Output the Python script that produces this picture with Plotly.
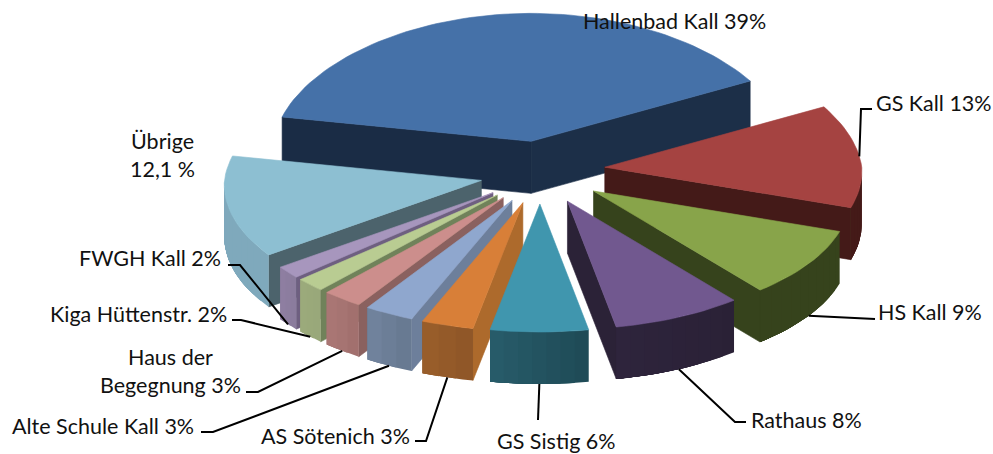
import math
import plotly.graph_objects as go

# ---- data (slice sizes as drawn; the printed labels are rounded)
categories = ["Hallenbad Kall", "GS Kall", "HS Kall", "Rathaus", "GS Sistig", "AS Sötenich",
              "Alte Schule Kall", "Haus der Begegnung", "Kiga Hüttenstr.", "FWGH Kall", "Übrige"]
values = [39.3, 13, 9, 8, 6, 3.2, 3.05, 2.5, 1.8, 1.6, 13.0]
label_texts = ["Hallenbad Kall 39%", "GS Kall 13%", "HS Kall 9%", "Rathaus 8%", "GS Sistig 6%",
               "AS Sötenich 3%", "Alte Schule Kall 3%", "Haus der<br>Begegnung 3%",
               "Kiga Hüttenstr. 2%", "FWGH Kall 2%", "Übrige<br>12,1 %"]

# ---- styles
top_colors = ["#4571A8", "#A54341", "#88A44A", "#71588F", "#4096AE", "#D87F38",
              "#8FA7CE", "#CC8E8C", "#B9CC92", "#A796BD", "#8DBFD2"]
outer_left = ["#1A2C45", "#441A18", "#36431C", "#2E243C", "#285C6A", "#9A5E2A",
              "#72849F", "#AB7876", "#9BAA7B", "#8F7FA2", "#7FA9BC"]
outer_right = ["#20354F", "#441A18", "#36431C", "#2A2136", "#1E4A56", "#8E5628",
               "#66788F", "#A06F6D", "#99A87A", "#8A7B9C", "#7FA9BC"]
cut_colors = ["#1A2C45", "#441A18", "#36431C", "#2B2238", "#275A68", "#AD6A2C",
              "#6D7F9B", "#8A615F", "#70825A", "#6E5F80", "#4C636C"]
draw_order = [0, 1, 10, 2, 9, 8, 7, 6, 5, 3, 4]
apex_nudge_y = [0, -4, 0, 0, 0, 0, 0, 0, 0, 0, 0]

# ---- projection of the tilted pie
START, CX, CY = -79.0, 540.0, 174.0
RX, RY, DEPTH = 257.0, 128.0, 52.0
EX_RIGHT, EX_LEFT, EY_BACK, EY_FRONT = 65.0, 60.0, 33.0, 30.0
PERSP_BACK, PERSP_FRONT = 0.07, 0.03
FONT = "Lato"
FS = 21.5


def blend(c1, c2, t):
    a = [int(c1[i:i + 2], 16) for i in (1, 3, 5)]
    b = [int(c2[i:i + 2], 16) for i in (1, 3, 5)]
    return "#%02X%02X%02X" % tuple(round(p + (q - p) * t) for p, q in zip(a, b))


total = sum(values)
slices = []
ang = START
for v in values:
    span = v / total * 360
    slices.append((ang, ang + span))
    ang += span


def apex(i):
    s, e = slices[i]
    m = math.radians((s + e) / 2)
    c, sn = math.cos(m), math.sin(m)
    return (CX + (EX_RIGHT if sn > 0 else EX_LEFT) * sn,
            CY - c * (EY_BACK if c > 0 else EY_FRONT) + apex_nudge_y[i])


def rim(i, deg):
    ax, ay = apex(i)
    r = math.radians(deg)
    c = math.cos(r)
    scale = 1 - (PERSP_BACK if c > 0 else PERSP_FRONT) * c
    return ax + RX * scale * math.sin(r), ay - RY * c


fig = go.Figure()


def poly(points, color, edge=0.6):
    xs = [p[0] for p in points] + [points[0][0]]
    ys = [p[1] for p in points] + [points[0][1]]
    fig.add_trace(go.Scatter(x=xs, y=ys, mode="lines", fill="toself", fillcolor=color,
                             line=dict(color=color, width=edge), hoverinfo="skip", showlegend=False))


for i in draw_order:
    s, e = slices[i]
    A = apex(i)
    low = lambda p: (p[0], p[1] + DEPTH)
    # cut faces that look towards the viewer
    if math.cos(math.radians(s - 90)) < 0:
        p = rim(i, s)
        poly([A, p, low(p), low(A)], cut_colors[i])
    if math.cos(math.radians(e + 90)) < 0:
        p = rim(i, e)
        poly([A, p, low(p), low(A)], blend(cut_colors[i], outer_right[i], 0.3))
    # outer wall, painted in overlapping bands for the soft gradient
    a0 = max(s, 90.0) if s < 270 else s
    a1 = min(e, 270.0)
    if a1 > a0:
        n = max(3, int((a1 - a0) / 3))
        for k in range(n):
            d0 = a0 + (a1 - a0) * k / n
            m = max(2, int((a1 - d0) / 2))
            arc = [rim(i, d0 + (a1 - d0) * t / m) for t in range(m + 1)]
            t = (k + 0.5) / n  # larger angle = further left on screen
            poly(arc + [low(q) for q in reversed(arc)], blend(outer_right[i], outer_left[i], t), edge=0)
    # top face
    n = max(4, int((e - s) / 2))
    poly([A] + [rim(i, s + (e - s) * k / n) for k in range(n + 1)], top_colors[i])

# ---- leader lines: anchored on the slices, then to their labels
leader_elbows = {1: [(861, 109), (872, 109)], 2: [(865, 319), (875, 319)],
                 3: [(735, 422), (746, 422)], 4: [(538, 420)],
                 5: [(426, 441), (415, 441)], 6: [(213, 432), (201, 432)],
                 7: [(258, 392), (246, 392)], 8: [(241, 320), (232, 320)],
                 9: [(240, 265), (228, 265)]}
for i, pts in leader_elbows.items():
    s, e = slices[i]
    mx, my = rim(i, (s + e) / 2)
    if math.cos(math.radians((s + e) / 2)) < 0:
        my += DEPTH
    xs = [mx] + [p[0] for p in pts]
    ys = [my] + [p[1] for p in pts]
    fig.add_trace(go.Scatter(x=xs, y=ys, mode="lines", line=dict(color="#000000", width=2),
                             hoverinfo="skip", showlegend=False))

# ---- labels
label_pos = [(581, 21, "left"), (874, 103, "left"), (876, 312, "left"), (749, 420, "left"),
             (495, 441, "left"), (412, 436, "right"), (196, 426, "right"), (170, 371, "center"),
             (229, 314, "right"), (223, 258, "right"), (162, 155, "center")]
for text, (x, y, anchor) in zip(label_texts, label_pos):
    fig.add_annotation(x=x, y=y, xref="x", yref="y", text=text, showarrow=False, xanchor=anchor,
                       yanchor="middle", align="center", font=dict(family=FONT, size=FS, color="#111111"))

fig.update_layout(width=993, height=454, autosize=False, margin=dict(l=0, r=0, t=0, b=0),
                  paper_bgcolor="white", plot_bgcolor="white", showlegend=False,
                  xaxis=dict(range=[0, 993], visible=False, fixedrange=True),
                  yaxis=dict(range=[454, 0], visible=False, fixedrange=True))
fig.write_html("out.html", config=dict(displayModeBar=False),
               post_script="document.body.style.margin='0';document.body.style.overflow='hidden';")
